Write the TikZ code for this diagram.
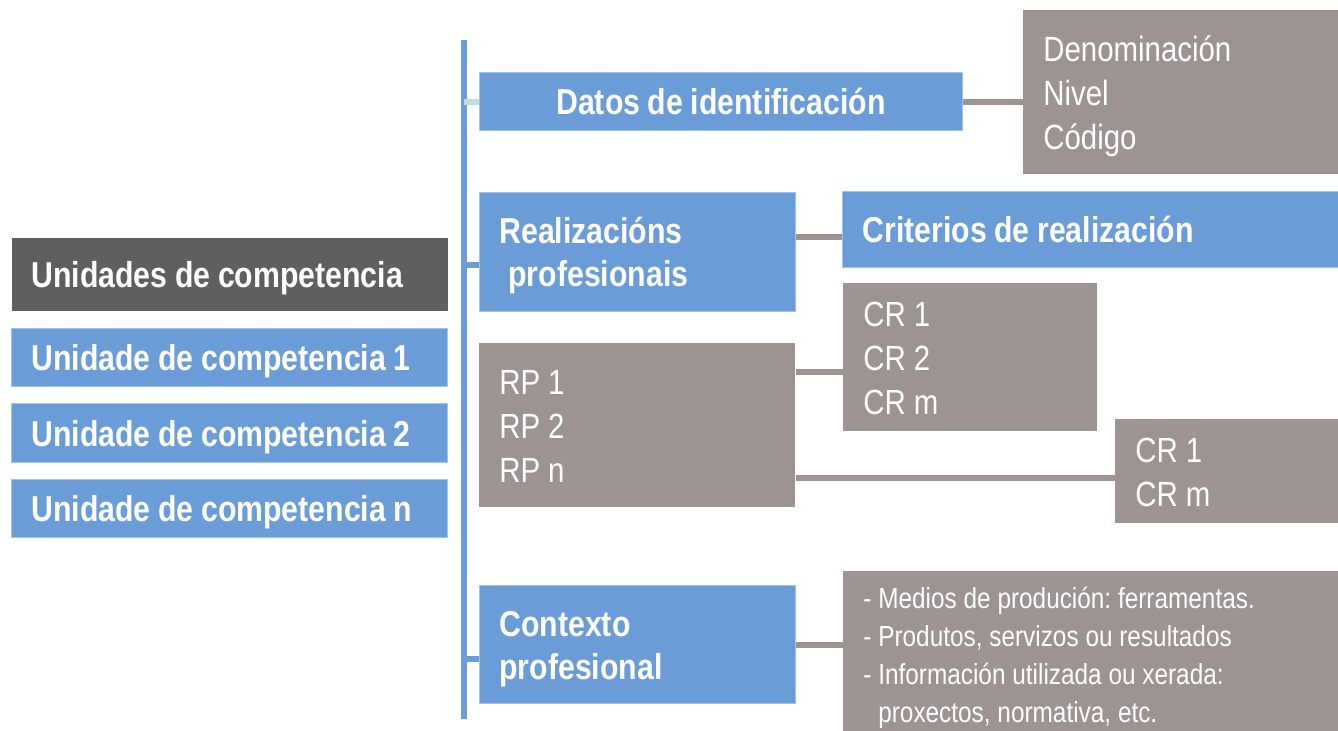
\documentclass[tikz,border=0pt]{standalone}
\usepackage{fontspec}
\setmainfont{Liberation Sans}[FakeStretch=0.84]
\usepackage{tikz}
\usetikzlibrary{calc,positioning}

\definecolor{ucblue}{RGB}{106,157,216}
\definecolor{ucblueedge}{RGB}{160,196,234}
\definecolor{ucgrey}{RGB}{157,148,146}
\definecolor{ucdark}{RGB}{95,95,95}
\definecolor{uctick}{RGB}{190,222,230}

\tikzset{
  box/.style={rectangle, anchor=north west, inner xsep=10pt, inner ysep=0pt, text=white, align=left},
  bluebox/.style={box, fill=ucblue, draw=ucblueedge, line width=0.5pt, text height=13pt, text depth=0pt,
    font=\bfseries\fontsize{18pt}{21.5pt}\selectfont, execute at begin node={\spaceskip=3.8pt\xspaceskip=3.8pt\relax}},
  greybox/.style={box, fill=ucgrey, text height=12.6pt, text depth=0pt, font=\fontsize{17.5pt}{22pt}\selectfont,
    execute at begin node={\spaceskip=4pt\xspaceskip=4pt\relax}},
  greyline/.style={draw=ucgrey, line width=3pt},
  blueline/.style={draw=ucblue, line width=3pt}
}

\begin{document}
\begin{tikzpicture}[x=0.5pt,y=-0.5pt]
    \fill[white] (0,0) rectangle (1338,730);
    \useasboundingbox (0,0) rectangle (1338,730);

    % left column
    \node[bluebox, fill=ucdark, draw=none, text width=198pt, minimum height=36.5pt] (uchead) at (11,237) {Unidades de competencia};
    \node[bluebox, text width=198pt, minimum height=29pt] (uc1) at (11,328) {Unidade de competencia 1};
    \node[bluebox, text width=198pt, minimum height=29.5pt] (uc2) at (11,403) {Unidade de competencia 2};
    \node[bluebox, text width=198pt, minimum height=29pt] (ucn) at (11,479) {Unidade de competencia n};

    % middle column
    \node[bluebox, align=center, text width=221.5pt, minimum height=29pt] (datos) at (479,72) {Datos de identificación};
    \node[bluebox, text width=138pt, minimum height=59.5pt, text depth=21.5pt] (realiz) at (479,192) {Realizacións\\\hspace*{4.5pt}profesionais};
    \node[greybox, text width=138pt, minimum height=82pt, text depth=44pt] (rp) at (479,343) {RP 1\\RP 2\\RP n};
    \node[bluebox, text width=138pt, minimum height=59pt, text depth=21.5pt] (contexto) at (479,585) {Contexto\\profesional};

    % right column
    \node[greybox, text width=137.5pt, minimum height=82pt, text depth=44pt] (deno) at (1023,10) {Denominación\\Nivel\\Código};
    \node[bluebox, text width=228pt, minimum height=38pt] (crit) at (842,191) {Criterios de realización};
    \node[greybox, text width=107pt, minimum height=74pt, text depth=44pt] (cra) at (843,283) {CR 1\\CR 2\\CR m};
    \node[greybox, text width=91.5pt, minimum height=52pt, text depth=22pt] (crb) at (1115,419) {CR 1\\CR m};
    \node[greybox, text width=227.5pt, minimum height=84pt, text height=10.4pt, text depth=57pt,
        font=\fontsize{14.5pt}{19pt}\selectfont, execute at begin node={\spaceskip=3.4pt\xspaceskip=3.4pt\relax}] (medios) at (843,571)
        {- Medios de produción: ferramentas.\\- Produtos, servizos ou resultados\\- Información utilizada ou xerada:\\\phantom{- }proxectos, normativa, etc.};

    % spine and ticks
    \coordinate (spinetop) at (464,40);
    \coordinate (spinebot) at (464,719);
    \draw[blueline] (spinetop) -- (spinebot);
    \draw[line width=3pt, draw=uctick] (spinetop |- datos.west) -- (datos.west);
    \coordinate (trealiz) at (0,265);
    \coordinate (tcontexto) at (0,659);
    \draw[blueline] (spinetop |- trealiz) -- (realiz.west |- trealiz);
    \draw[blueline] (spinetop |- tcontexto) -- (contexto.west |- tcontexto);

    % grey connectors
    \coordinate (ccrit) at (0,237);
    \coordinate (ccra) at (0,372);
    \coordinate (ccrb) at (0,478);
    \draw[greyline] (datos.east) -- (datos.east -| deno.west);
    \draw[greyline] (realiz.east |- ccrit) -- (crit.west |- ccrit);
    \draw[greyline] (rp.east |- ccra) -- (cra.west |- ccra);
    \draw[greyline] (rp.east |- ccrb) -- (crb.west |- ccrb);
    \draw[greyline] (contexto.east) -- (contexto.east -| medios.west);
\end{tikzpicture}
\end{document}
